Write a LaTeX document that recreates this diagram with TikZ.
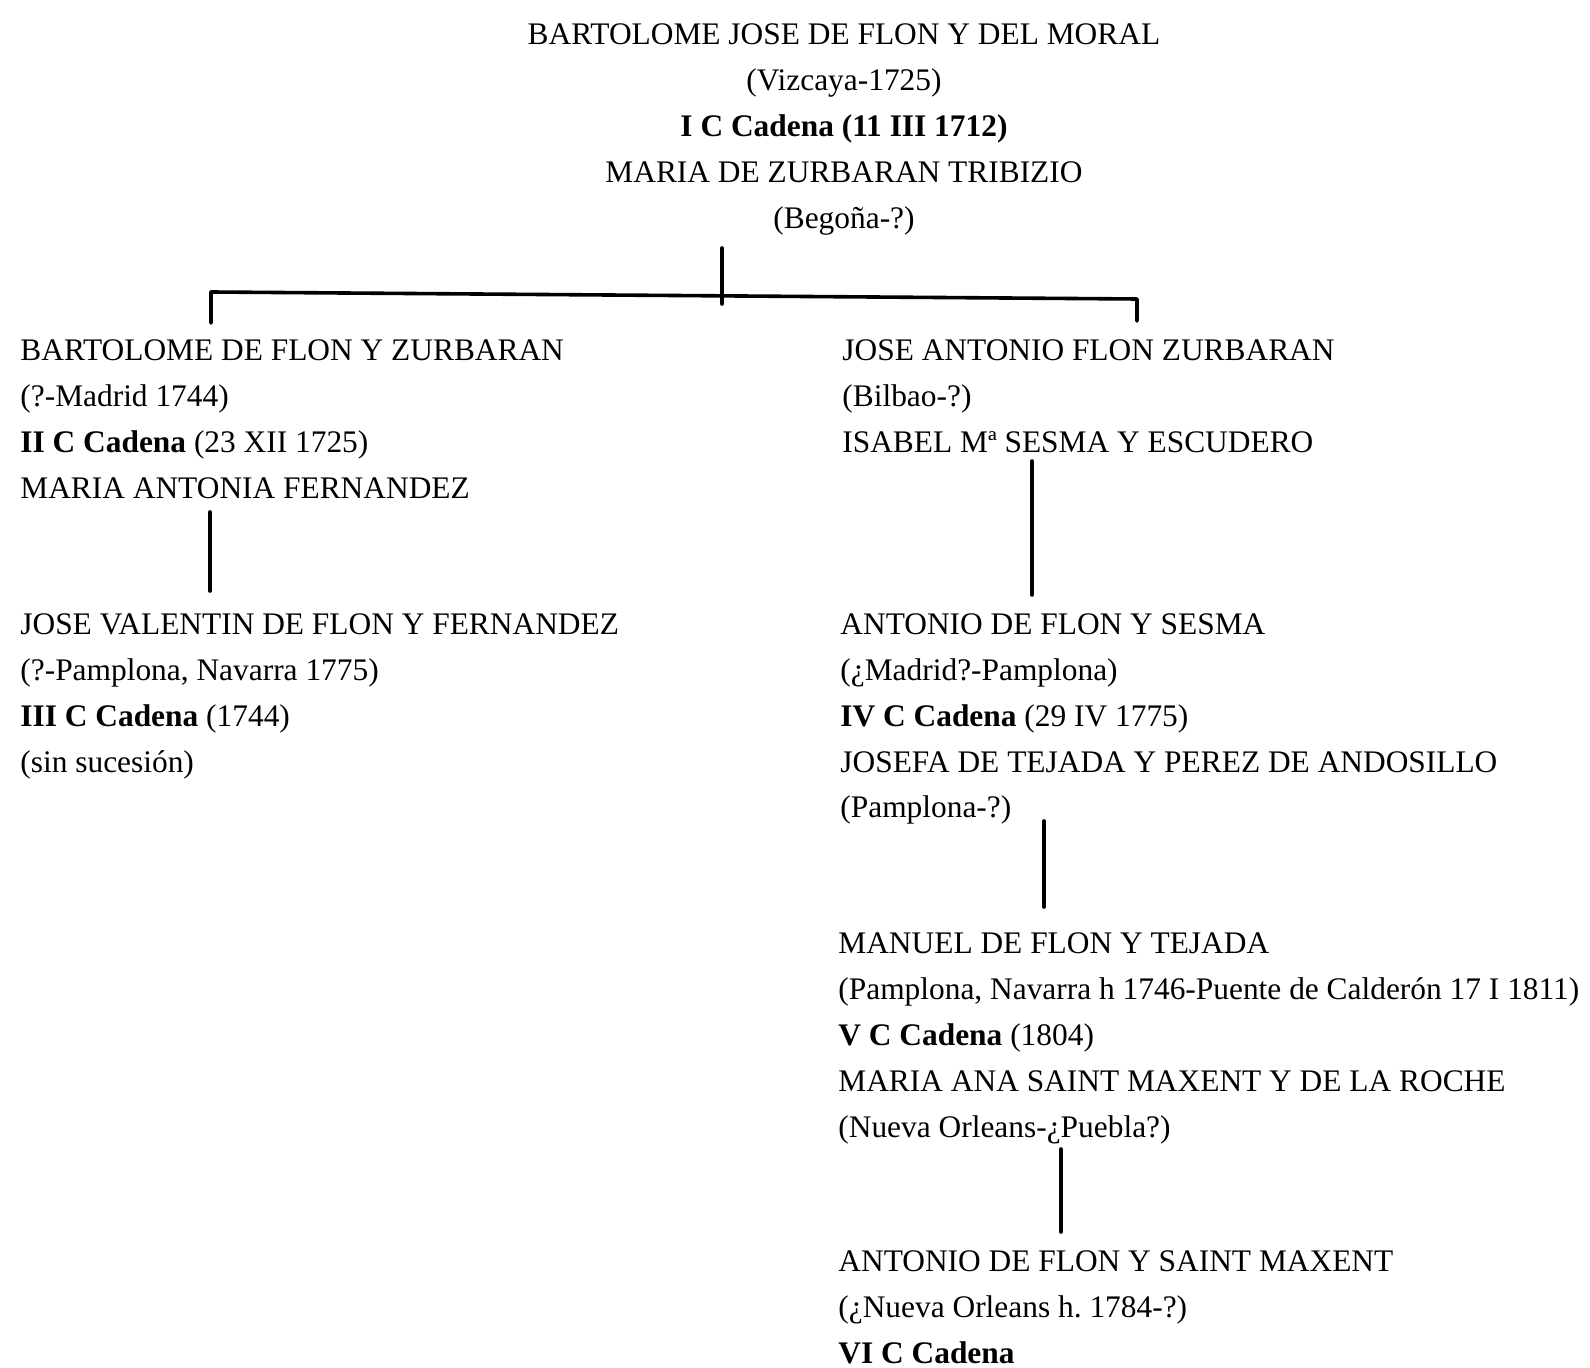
\documentclass[tikz,border=0pt]{standalone}
\usepackage{fontspec}
\setmainfont{Liberation Serif}
\begin{document}
\begin{tikzpicture}[x=0.5pt,y=-0.5pt,
  person/.style={inner sep=0pt, align=left, anchor=base west,
    font=\fontsize{15.7}{23}\selectfont},
  link/.style={line width=1.8pt, line cap=round, line join=round}]
\useasboundingbox (0,0) rectangle (1590,1368);

% family members (each node is placed by the baseline of its last line)
\node[person, anchor=base, align=center] (p1) at (844,229)
  {BARTOLOME JOSE DE FLON Y DEL MORAL\\(Vizcaya-1725)\\\textbf{I C Cadena (11 III 1712)}\\MARIA DE ZURBARAN TRIBIZIO\\(Begoña-?)};
\node[person] (p2) at (20,499)
  {BARTOLOME DE FLON Y ZURBARAN\\(?-Madrid 1744)\\\textbf{II C Cadena} (23 XII 1725)\\MARIA ANTONIA FERNANDEZ};
\node[person] (p3) at (842,453)
  {JOSE ANTONIO FLON ZURBARAN\\(Bilbao-?)\\ISABEL Mª SESMA Y ESCUDERO};
\node[person] (p4) at (20,772)
  {JOSE VALENTIN DE FLON Y FERNANDEZ\\(?-Pamplona, Navarra 1775)\\\textbf{III C Cadena} (1744)\\(sin sucesión)};
\node[person] (p5) at (840,818)
  {ANTONIO DE FLON Y SESMA\\(¿Madrid?-Pamplona)\\\textbf{IV C Cadena} (29 IV 1775)\\JOSEFA DE TEJADA Y PEREZ DE ANDOSILLO\\(Pamplona-?)};
\node[person] (p6) at (838,1137)
  {MANUEL DE FLON Y TEJADA\\(Pamplona, Navarra h 1746-Puente de Calderón 17 I 1811)\\\textbf{V C Cadena} (1804)\\MARIA ANA SAINT MAXENT Y DE LA ROCHE\\(Nueva Orleans-¿Puebla?)};
\node[person] (p7) at (838,1363)
  {ANTONIO DE FLON Y SAINT MAXENT\\(¿Nueva Orleans h.\ 1784-?)\\\textbf{VI C Cadena}};

% line end points
\coordinate (stemTop) at (722,248);
\coordinate (stemBot) at (722,304);
\coordinate (barL) at (211,292);
\coordinate (barR) at (1137,299);
\coordinate (kidL) at (211,323);
\coordinate (kidR) at (1137,321);
\coordinate (a1) at (210,512);  \coordinate (a2) at (210,591);
\coordinate (b1) at (1032,461); \coordinate (b2) at (1032,595);
\coordinate (c1) at (1044,821); \coordinate (c2) at (1044,907);
\coordinate (d1) at (1061,1149);\coordinate (d2) at (1061,1232);

% descent lines
\draw[link] (stemTop) -- (stemBot);
\draw[link] (kidL) -- (barL) -- (barR) -- (kidR);
\draw[link] (a1) -- (a2);
\draw[link] (b1) -- (b2);
\draw[link] (c1) -- (c2);
\draw[link] (d1) -- (d2);
\end{tikzpicture}
\end{document}
